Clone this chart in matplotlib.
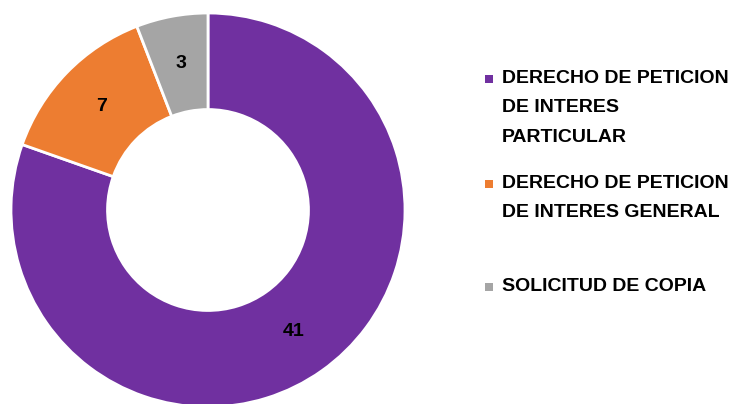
import matplotlib.pyplot as plt
from matplotlib.patches import Rectangle

labels = [
    "DERECHO DE PETICION\nDE INTERES\nPARTICULAR",
    "DERECHO DE PETICION\nDE INTERES GENERAL",
    "SOLICITUD DE COPIA",
]
values = [41, 7, 3]
colors = ["#7030A0", "#ED7D31", "#A5A5A5"]

W, H = 730, 404
fig = plt.figure(figsize=(W / 100, H / 100), dpi=100)

# donut: center (208, 210) px, outer radius 197 px
cx, cy, r = 208, 210, 197
ax = fig.add_axes([(cx - r) / W, (H - cy - r) / H, 2 * r / W, 2 * r / H])
wedges, texts = ax.pie(
    values,
    colors=colors,
    startangle=90,
    counterclock=False,
    radius=1,
    wedgeprops=dict(width=0.49, edgecolor="white", linewidth=2),
    labels=[str(v) for v in values],
    labeldistance=0.755,
    textprops=dict(fontsize=14, fontweight="bold", family="Liberation Sans",
                   color="black", ha="center", va="center"),
)
ax.set_xlim(-1, 1)
ax.set_ylim(-1, 1)
ax.set_aspect("equal")
ax.axis("off")

# legend drawn by hand, entries spaced like the original
entry_tops = [72, 177, 280]  # cap top of first line, px from top
for lab, col, top in zip(labels, colors, entry_tops):
    fig.text(502 / W, 1 - (top - 2) / H, lab, fontsize=14, fontweight="bold",
             family="Liberation Sans", va="top", ha="left", linespacing=1.95)
    fig.patches.append(
        Rectangle((485 / W, 1 - (top + 11) / H), 8 / W, 8 / H,
                  transform=fig.transFigure, facecolor=col, edgecolor="none")
    )

fig.savefig("out.png", dpi=100)
